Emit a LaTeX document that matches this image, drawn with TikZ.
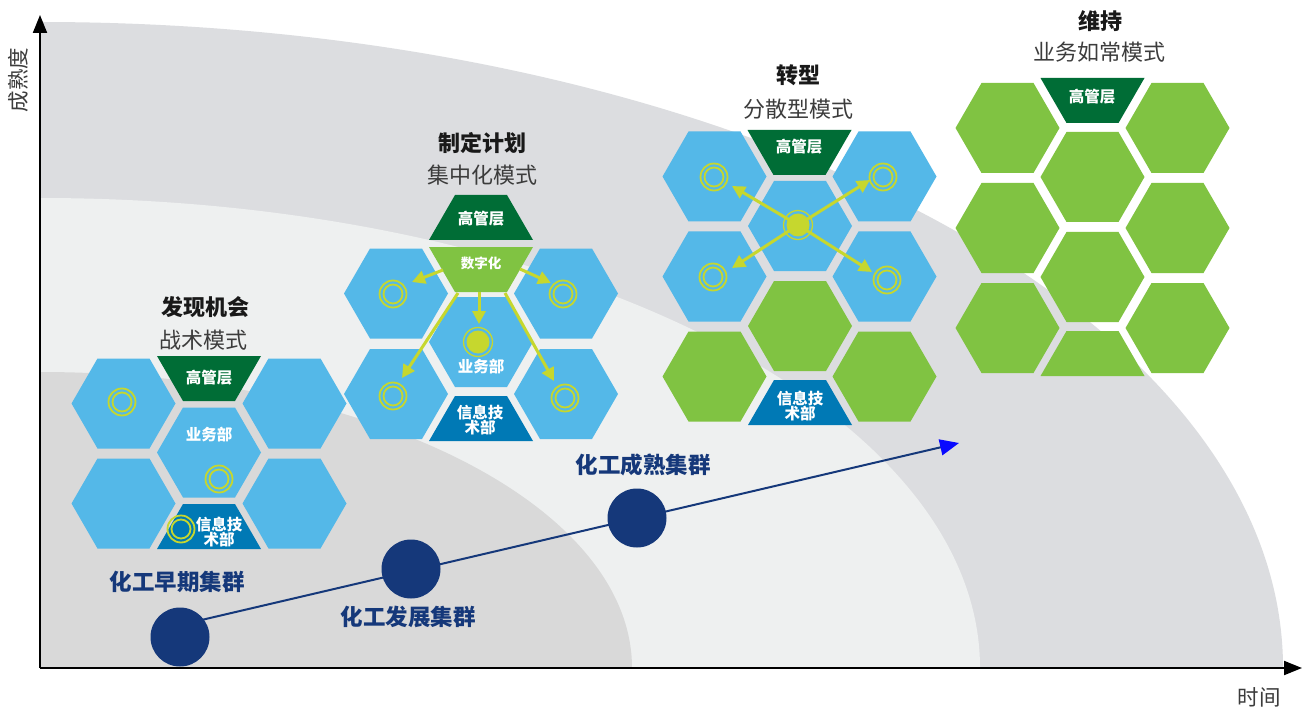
\documentclass[tikz,border=0pt]{standalone}
\usepackage{fontspec}
\setmainfont{Noto Sans CJK SC}
\usetikzlibrary{arrows.meta,calc}
\definecolor{outergray}{HTML}{DCDDE0}
\definecolor{midlight}{HTML}{EEF0F0}
\definecolor{innergray}{HTML}{D9D9D9}
\definecolor{hexblue}{HTML}{54B8E8}
\definecolor{hexgreen}{HTML}{80C342}
\definecolor{darkgreen}{HTML}{006D36}
\definecolor{itblue}{HTML}{0079B5}
\definecolor{limey}{HTML}{C6D72E}
\definecolor{navyc}{HTML}{15387A}
\definecolor{tipblue}{HTML}{0A0AFF}
\definecolor{subgray}{HTML}{3C3C3C}
\newcommand\hxcell[3]{\fill[#3] (#1,#2) +(-52,0) -- +(-26,-45) -- +(26,-45) -- +(52,0) -- +(26,45) -- +(-26,45) -- cycle;}
\newcommand\hxdown[3]{\fill[#3] (#1,#2) +(-52,0) -- +(52,0) -- +(26,45) -- +(-26,45) -- cycle;}
\newcommand\hxup[3]{\fill[#3] (#1,#2) +(-52,0) -- +(52,0) -- +(26,-45) -- +(-26,-45) -- cycle;}
\newcommand\dblring[2]{\draw[limey,line width=1.8pt] (#1,#2) circle[radius=13.5] (#1,#2) circle[radius=9.5];}
\newcommand\fulldot[2]{\fill[limey] (#1,#2) circle[radius=11.5]; \draw[limey,line width=1.3pt] (#1,#2) circle[radius=14.5];}
\tikzset{
  titletxt/.style={font=\bfseries\fontsize{22}{26}\selectfont, text=black!90, inner sep=0},
  subtxt/.style={font=\fontsize{22}{26}\selectfont, text=subgray, inner sep=0},
  hexlabel/.style={font=\bfseries\fontsize{15.5}{15.5}\selectfont, text=white, align=center, inner sep=0},
  pathlabel/.style={font=\bfseries\fontsize{22.5}{26}\selectfont, text=navyc, inner sep=0},
  axislabel/.style={font=\fontsize{21.5}{24}\selectfont, text=subgray, inner sep=0},
  limearrow/.style={limey, line width=3pt, -{Triangle[length=13pt,width=13pt]}},
  axisline/.style={black, line width=2pt, -{Triangle[length=18pt,width=14pt]}},
  bigdot/.style={circle, fill=navyc, minimum size=59pt, inner sep=0},
}
\begin{document}
\begin{tikzpicture}[x=1pt,y=-1pt]
\fill[white] (0,0) rectangle (1305,711);
\useasboundingbox (0,0) rectangle (1305,711);
% background regions
\begin{scope}
\clip (40,0) rectangle (1305,668);
\fill[outergray] (40,668) ellipse[x radius=1243, y radius=646];
\fill[midlight] (40,668) ellipse[x radius=940, y radius=470];
\fill[innergray] (40,668) ellipse[x radius=592, y radius=296];
\end{scope}
% axes
\coordinate (origin) at (40,668);
\coordinate (ytip) at (40,15);
\coordinate (xtip) at (1302,668);
\draw[axisline] (origin) -- (ytip);
\draw[axisline] (origin) -- (xtip);
\node[axislabel, rotate=90] (ylab) at (18,80) {成熟度};
\node[axislabel] (xlab) at (1259,697) {时间};

% ===== cluster 1 =====
\hxcell{123.5}{403.5}{hexblue}
\hxcell{123.5}{503.5}{hexblue}
\hxcell{294.5}{403.5}{hexblue}
\hxcell{294.5}{503.5}{hexblue}
\hxdown{209}{356}{darkgreen}
\hxcell{209}{452.5}{hexblue}
\hxup{209}{549}{itblue}
\dblring{122}{402}
\dblring{219}{479}
\dblring{181}{529}
\node[titletxt] (t1) at (205,307) {发现机会};
\node[subtxt] (s1) at (203,340) {战术模式};
\node[hexlabel] (c1top) at (209,378) {高管层};
\node[hexlabel] (c1mid) at (209,435) {业务部};
\node[hexlabel] (c1it) at (219,532) {信息技\\术部};

% ===== cluster 2 =====
\hxcell{396}{293.5}{hexblue}
\hxcell{396}{394}{hexblue}
\hxcell{566}{293.5}{hexblue}
\hxcell{566}{394}{hexblue}
\hxup{481}{240}{darkgreen}
\hxdown{481}{247}{hexgreen}
\hxcell{481}{342}{hexblue}
\hxup{481}{441}{itblue}
\dblring{393}{294}
\dblring{563}{294}
\dblring{393}{396}
\dblring{565}{398}
\fulldot{478}{342}
\coordinate (a2s1) at (443,270); \coordinate (a2e1) at (412,282);
\coordinate (a2s2) at (520,269); \coordinate (a2e2) at (551,283);
\coordinate (a2s3) at (479,292); \coordinate (a2e3) at (479,324);
\coordinate (a2s4) at (458,293); \coordinate (a2e4) at (402,378);
\coordinate (a2s5) at (505,293); \coordinate (a2e5) at (554,381);
\foreach \i in {1,...,5} {\draw[limearrow] (a2s\i) -- (a2e\i);}
\node[titletxt] (t2) at (482,143) {制定计划};
\node[subtxt] (s2) at (482,175) {集中化模式};
\node[hexlabel] (c2top) at (481,219) {高管层};
\node[hexlabel, font=\bfseries\fontsize{13.5}{14}\selectfont] (c2dig) at (481,263) {数字化};
\node[hexlabel] (c2mid) at (481,367) {业务部};
\node[hexlabel] (c2it) at (480,420) {信息技\\术部};

% ===== cluster 3 =====
\hxdown{799.5}{130}{darkgreen}
\hxcell{714.5}{176.5}{hexblue}
\hxcell{714.5}{276.5}{hexblue}
\hxcell{714.5}{376.5}{hexgreen}
\hxcell{884.5}{176.5}{hexblue}
\hxcell{884.5}{276.5}{hexblue}
\hxcell{884.5}{376.5}{hexgreen}
\hxcell{800}{226}{hexblue}
\hxcell{800}{326}{hexgreen}
\hxup{800}{425}{itblue}
\dblring{714}{177}
\dblring{883}{177}
\dblring{713}{277}
\dblring{887}{280}
\coordinate (c3ctr) at (798,225);
\coordinate (a3e1) at (732,186);
\coordinate (a3e2) at (870,180);
\coordinate (a3e3) at (732,268);
\coordinate (a3e4) at (872,272);
\foreach \i in {1,...,4} {\draw[limearrow] (c3ctr) -- (a3e\i);}
\fulldot{798}{225}
\node[titletxt] (t3) at (798,75) {转型};
\node[subtxt] (s3) at (798,109) {分散型模式};
\node[hexlabel] (c3top) at (799,147) {高管层};
\node[hexlabel] (c3it) at (800,406) {信息技\\术部};

% ===== cluster 4 =====
\hxdown{1092.5}{78}{darkgreen}
\hxcell{1007.5}{128}{hexgreen}
\hxcell{1007.5}{228}{hexgreen}
\hxcell{1007.5}{328}{hexgreen}
\hxcell{1177.5}{128}{hexgreen}
\hxcell{1177.5}{228}{hexgreen}
\hxcell{1177.5}{328}{hexgreen}
\hxcell{1092.5}{177}{hexgreen}
\hxcell{1092.5}{277}{hexgreen}
\hxup{1092.5}{376}{hexgreen}
\node[titletxt] (t4) at (1100,21) {维持};
\node[subtxt] (s4) at (1099,52) {业务如常模式};
\node[hexlabel] (c4top) at (1092,97) {高管层};

% ===== growth path =====
\coordinate (pstart) at (180,625);
\coordinate (pend) at (959,443);
\draw[navyc, line width=2pt, -{Triangle[length=19pt,width=16pt,color=tipblue]}] (pstart) -- (pend);
\node[bigdot] (d1) at (180,637) {};
\node[bigdot] (d2) at (411,569) {};
\node[bigdot] (d3) at (637,518) {};
\node[pathlabel] (l1) at (177,582) {化工早期集群};
\node[pathlabel] (l2) at (408,617) {化工发展集群};
\node[pathlabel] (l3) at (643,465) {化工成熟集群};
\end{tikzpicture}
\end{document}
